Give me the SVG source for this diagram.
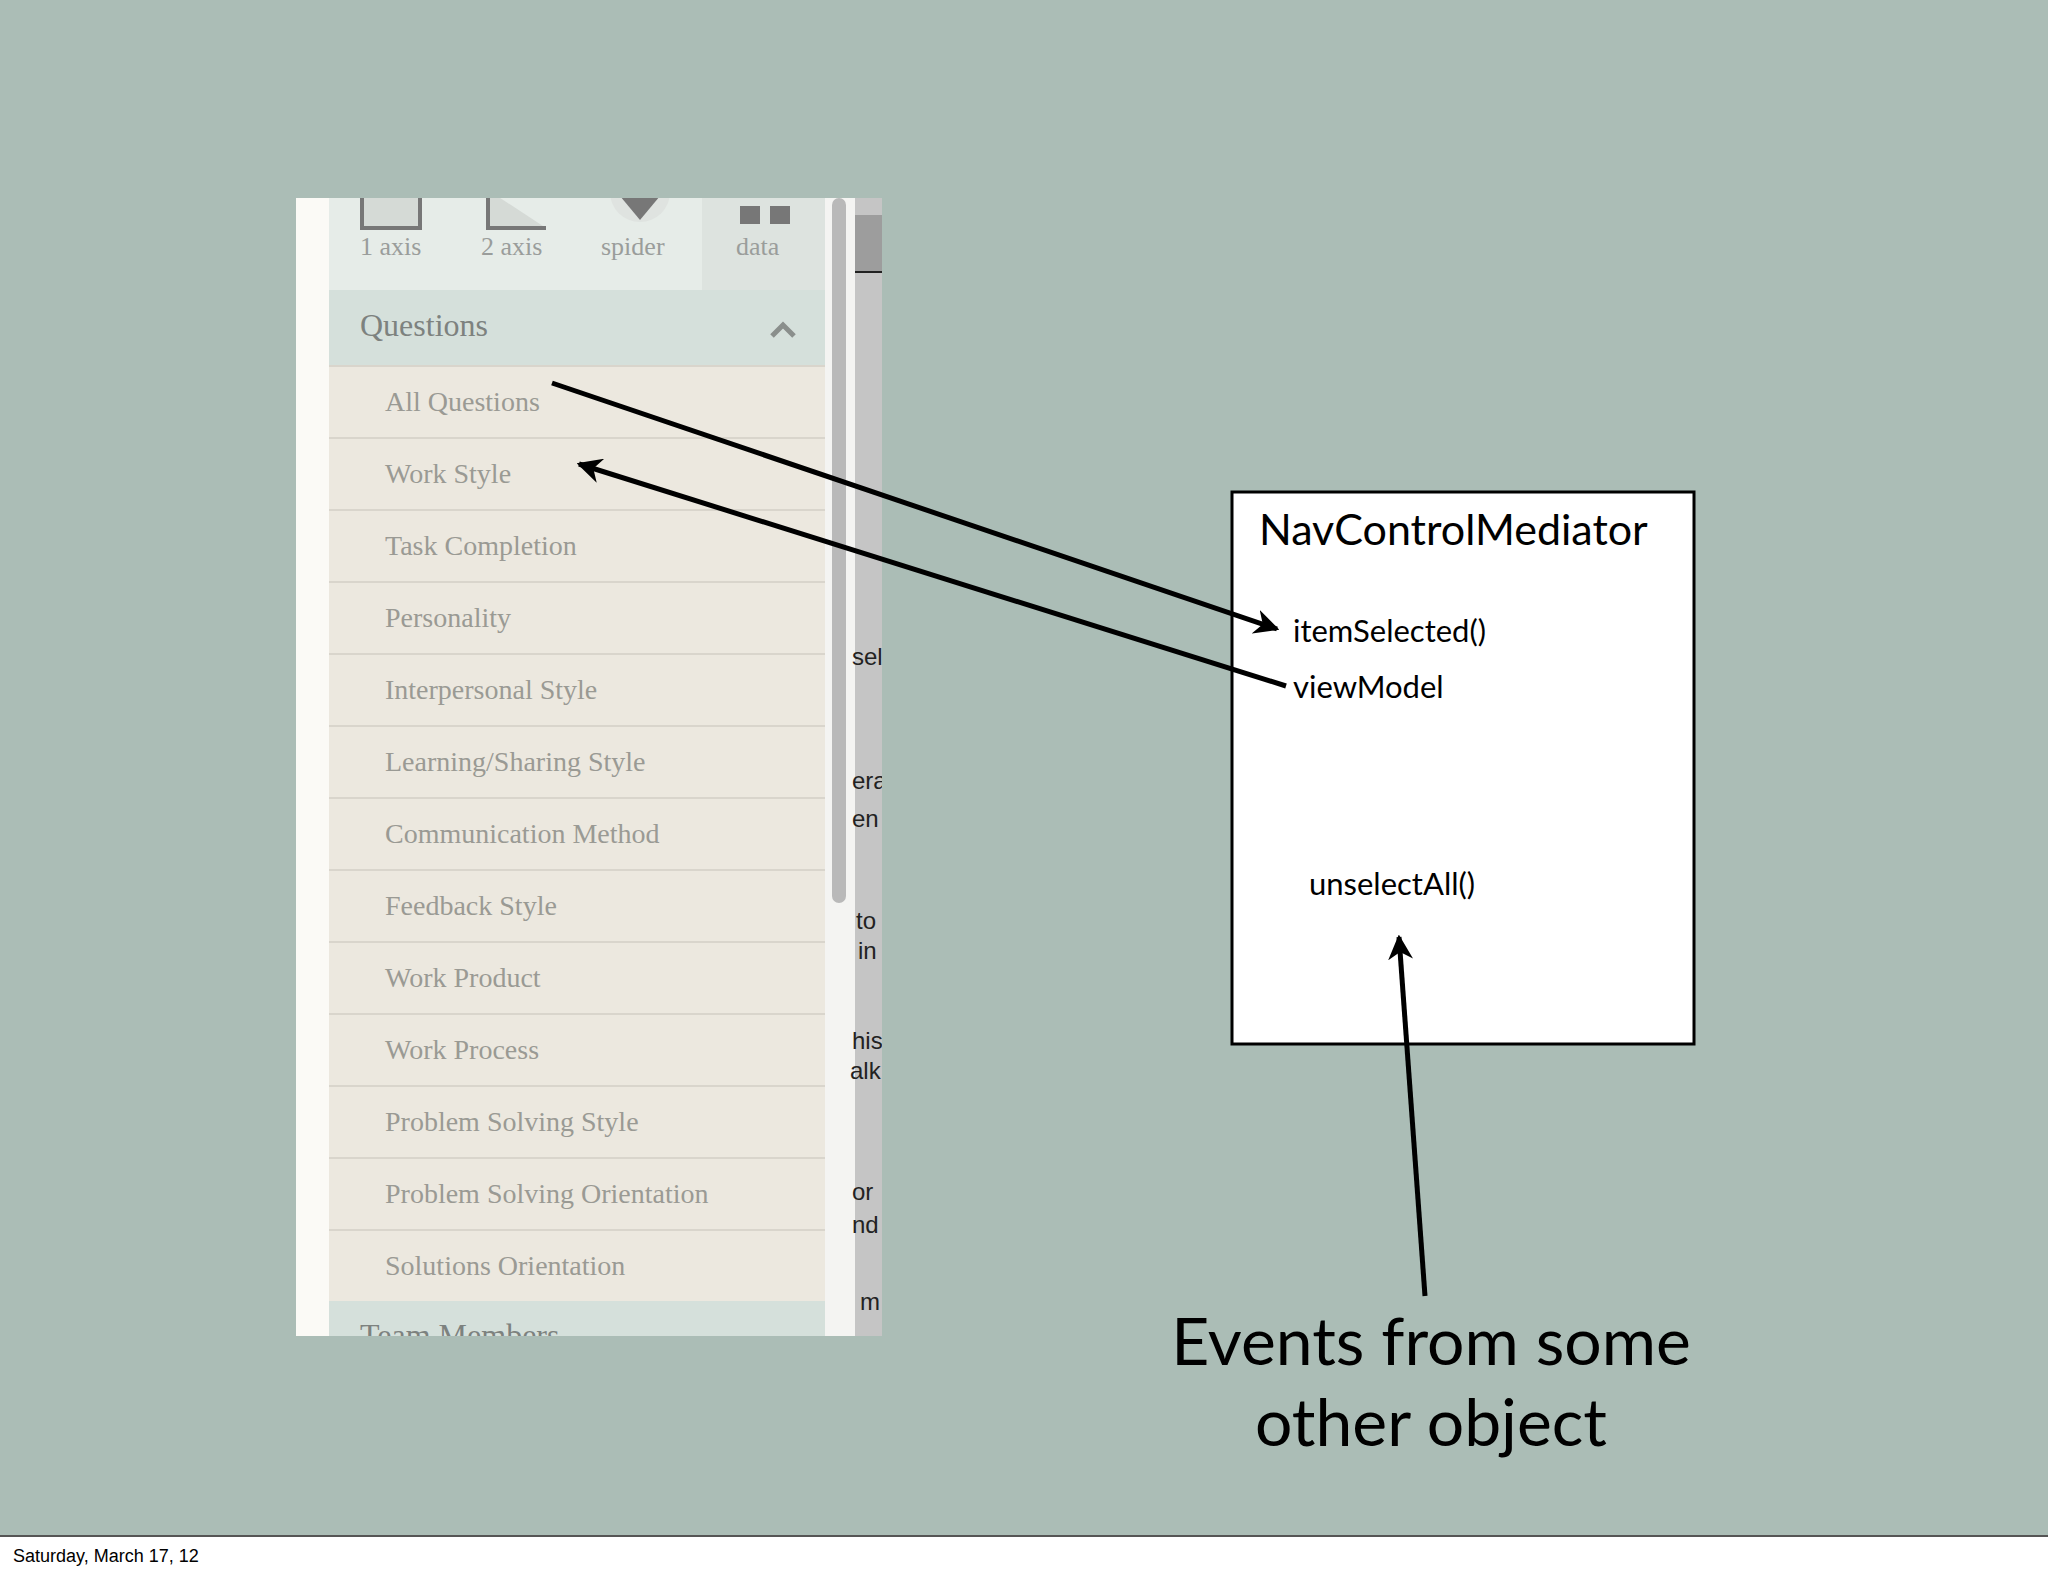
<svg xmlns="http://www.w3.org/2000/svg" width="2048" height="1576" viewBox="0 0 2048 1576">
<defs>
<style>
.item{font-family:"Liberation Serif",serif;font-size:28px;fill:#9a9a94}
.hdr{font-family:"Liberation Serif",serif;font-size:32px;fill:#7d827f}
.ico{font-family:"Liberation Serif",serif;font-size:26px;fill:#9a9d9b}
.frag{font-family:"Liberation Sans",sans-serif;font-size:24px;fill:#222}
.lab{font-family:Lato,"Open Sans",sans-serif;fill:#000}
.conn{stroke:#000;stroke-width:5;fill:none;marker-end:url(#ah)}
</style>
<marker id="ah" viewBox="0 0 10 10" refX="9" refY="5" markerWidth="5" markerHeight="5" orient="auto" markerUnits="strokeWidth"><path d="M0,0 L10,5 L0,10 L3,5 z" fill="#000"/></marker>
<clipPath id="sc"><rect x="296" y="198" width="586" height="1138"/></clipPath>
</defs>
<rect width="2048" height="1576" fill="#abbdb6"/>
<rect x="0" y="1535" width="2048" height="41" fill="#fff"/>
<line x1="0" y1="1536" x2="2048" y2="1536" stroke="#555" stroke-width="2"/>
<text x="13" y="1562" font-family="Liberation Sans,sans-serif" font-size="18" fill="#000">Saturday, March 17, 12</text>
<g id="sidebar" clip-path="url(#sc)">
<rect x="296" y="198" width="586" height="1138" fill="#fbfaf6"/>
<rect x="329" y="198" width="496" height="92" fill="#e6ece8"/>
<rect x="702" y="198" width="123" height="92" fill="#dde3df"/>
<rect x="362" y="190" width="58" height="38" fill="#d5dad6" stroke="#777" stroke-width="4"/>
<path d="M488,190 V228 H546" fill="#d5dad6" stroke="#777" stroke-width="4"/>
<circle cx="640" cy="192" r="30" fill="#dfe3e0"/><path d="M620,196 L640,220 L660,196 z" fill="#777"/>
<rect x="740" y="206" width="20" height="18" fill="#777"/><rect x="770" y="206" width="20" height="18" fill="#777"/>
<text class="ico" x="360" y="255">1 axis</text>
<text class="ico" x="481" y="255">2 axis</text>
<text class="ico" x="601" y="255">spider</text>
<text class="ico" x="736" y="255">data</text>
<rect x="329" y="290" width="496" height="76" fill="#d5e0db"/>
<text class="hdr" x="360" y="336">Questions</text>
<path d="M772,336 L783,325 L794,336" stroke="#8a8f8c" stroke-width="5" fill="none"/>
<rect x="329" y="366" width="496" height="935" fill="#ece8df"/>
<g stroke="#d9d5cc" stroke-width="2">
<line x1="329" y1="366" x2="825" y2="366"/><line x1="329" y1="438" x2="825" y2="438"/><line x1="329" y1="510" x2="825" y2="510"/><line x1="329" y1="582" x2="825" y2="582"/><line x1="329" y1="654" x2="825" y2="654"/><line x1="329" y1="726" x2="825" y2="726"/><line x1="329" y1="798" x2="825" y2="798"/><line x1="329" y1="870" x2="825" y2="870"/><line x1="329" y1="942" x2="825" y2="942"/><line x1="329" y1="1014" x2="825" y2="1014"/><line x1="329" y1="1086" x2="825" y2="1086"/><line x1="329" y1="1158" x2="825" y2="1158"/><line x1="329" y1="1230" x2="825" y2="1230"/>
</g>
<text class="item" x="385" y="411">All Questions</text>
<text class="item" x="385" y="483">Work Style</text>
<text class="item" x="385" y="555">Task Completion</text>
<text class="item" x="385" y="627">Personality</text>
<text class="item" x="385" y="699">Interpersonal Style</text>
<text class="item" x="385" y="771">Learning/Sharing Style</text>
<text class="item" x="385" y="843">Communication Method</text>
<text class="item" x="385" y="915">Feedback Style</text>
<text class="item" x="385" y="987">Work Product</text>
<text class="item" x="385" y="1059">Work Process</text>
<text class="item" x="385" y="1131">Problem Solving Style</text>
<text class="item" x="385" y="1203">Problem Solving Orientation</text>
<text class="item" x="385" y="1275">Solutions Orientation</text>
<rect x="329" y="1301" width="496" height="40" fill="#d5e0db"/>
<text class="hdr" x="360" y="1346">Team Members</text>
<rect x="825" y="198" width="30" height="1138" fill="#f4f4f2"/>
<rect x="832" y="198" width="14" height="705" rx="7" fill="#b9b9b9"/>
<rect x="855" y="198" width="27" height="1138" fill="#c5c5c5"/>
<rect x="855" y="215" width="27" height="57" fill="#9d9d9d"/>
<line x1="855" y1="272" x2="882" y2="272" stroke="#222" stroke-width="2"/>
<text class="frag" x="852" y="665">sel</text>
<text class="frag" x="852" y="789">era</text>
<text class="frag" x="852" y="827">en</text>
<text class="frag" x="856" y="929">to</text>
<text class="frag" x="858" y="959">in</text>
<text class="frag" x="852" y="1049">his</text>
<text class="frag" x="850" y="1079">alk</text>
<text class="frag" x="852" y="1200">or</text>
<text class="frag" x="852" y="1233">nd</text>
<text class="frag" x="860" y="1310">m</text>
</g>
<g id="mediator">
<rect x="1232" y="492" width="462" height="552" fill="#fff" stroke="#000" stroke-width="3"/>
<text class="lab" x="1259" y="545" font-size="43">NavControlMediator</text>
<text class="lab" x="1293" y="642" font-size="31">itemSelected()</text>
<text class="lab" x="1293" y="698" font-size="31">viewModel</text>
<text class="lab" x="1309" y="895" font-size="31">unselectAll()</text>
</g>
<g id="events">
<text class="lab" x="1431" y="1365" font-size="66" text-anchor="middle">Events from some</text>
<text class="lab" x="1431" y="1446" font-size="66" text-anchor="middle">other object</text>
</g>
<g id="connectors">
<line class="conn" x1="552" y1="383" x2="1277" y2="629"/>
<line class="conn" x1="1286" y1="686" x2="579" y2="464"/>
<line class="conn" x1="1425" y1="1296" x2="1399" y2="937"/>
</g>
</svg>
